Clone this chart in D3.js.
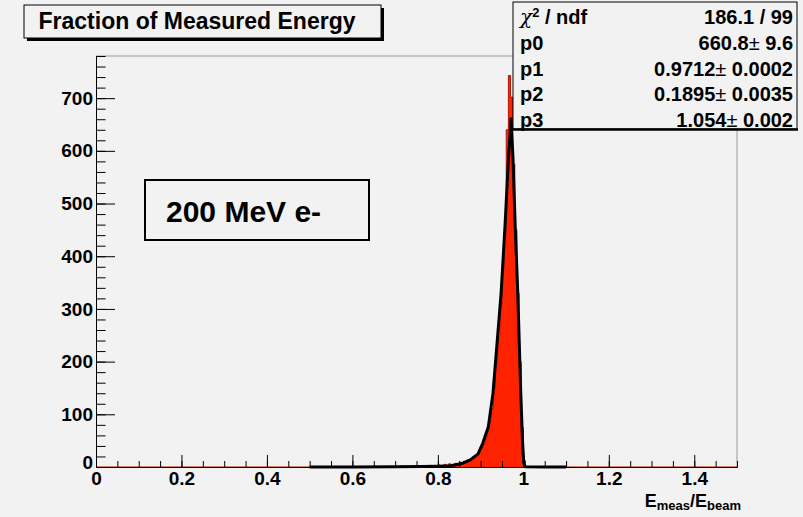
<!DOCTYPE html>
<html>
<head>
<meta charset="utf-8">
<script src="https://cdn.jsdelivr.net/npm/d3@7"></script>
<style>
  body { margin: 0; background: #f2f2f2; }
  text { font-family: "Liberation Sans", Arial, sans-serif; font-weight: bold; fill: #000; }
</style>
</head>
<body>
<script>
// histogram: first bin edge, bin width, counts
var binStart = 0.700;
var binWidth = 0.005;
var counts = [1, 0, 0, 2, 0, 1, 0, 0, 1, 0,
  0, 2, 0, 1, 0, 1, 3, 0, 2, 1,
  4, 2, 3, 5, 3, 6, 4, 5, 7, 6,
  9, 8, 11, 10, 14, 13, 17, 20, 24, 29,
  36, 44, 55, 68, 88, 112, 150, 195, 250, 310,
  375, 445, 640, 743, 702, 575, 450, 330, 200, 75,
  12, 1];

// fitted curve, points
var fitX = [0.50, 0.60, 0.70, 0.76, 0.80, 0.83, 0.854, 0.875, 0.894, 0.905, 0.918, 0.929, 0.938,
  0.948, 0.957, 0.965, 0.9712, 0.976, 0.981, 0.987, 0.994, 0.998, 1.001, 1.004, 1.05, 1.10];
var fitY = [0, 0, 0.3, 0.8, 1.5, 2.5, 6, 13, 25, 45, 76, 140, 230,
  330, 456, 582, 661, 582, 456, 330, 140, 50, 8, 0.5, 0, 0];

var xTicks = [0, 0.2, 0.4, 0.6, 0.8, 1, 1.2, 1.4];
var yTicks = [0, 100, 200, 300, 400, 500, 600, 700];

var statNames = ["χ2 / ndf", "p0", "p1", "p2", "p3"];
var statVals = [["186.1 / 99", ""], ["660.8", " 9.6"], ["0.9712", " 0.0002"], ["0.1895", " 0.0035"], ["1.054", " 0.002"]];

var svgWidth = 803, svgHeight = 517;
var margin = { top: 56, right: 66, bottom: 50, left: 96 };
var width = svgWidth - margin.left - margin.right;
var height = svgHeight - margin.top - margin.bottom;

var svg = d3.select("body").append("svg")
  .attr("width", svgWidth)
  .attr("height", svgHeight);

svg.append("rect").attr("width", svgWidth).attr("height", svgHeight).attr("fill", "#f2f2f2");

var x = d3.scaleLinear().domain([0, 1.5]).range([margin.left, margin.left + width]);
var y = d3.scaleLinear().domain([0, 780]).range([margin.top + height, margin.top]);

// frame (top / right in grey)
svg.append("path")
  .attr("d", `M${x(0)},${y(780)}H${x(1.5)}V${y(0)}`)
  .attr("fill", "none").attr("stroke", "#999").attr("stroke-width", 1);

// histogram
var pts = [[0, 0]];
counts.forEach(function (c, i) { pts.push([binStart + i * binWidth, c]); });
pts.push([binStart + counts.length * binWidth, 0]);
pts.push([1.5, 0]);

svg.append("path")
  .datum(pts)
  .attr("d", d3.area().curve(d3.curveStepAfter).x(d => x(d[0])).y0(y(0)).y1(d => y(d[1])))
  .attr("fill", "#ff2200");
svg.append("path")
  .datum(pts)
  .attr("d", d3.line().curve(d3.curveStepAfter).x(d => x(d[0])).y(d => y(d[1])))
  .attr("fill", "none").attr("stroke", "#b81400").attr("stroke-width", 1);

// fit
svg.append("path")
  .datum(fitX.map((v, i) => [v, fitY[i]]))
  .attr("d", d3.line().x(d => x(d[0])).y(d => y(d[1])))
  .attr("fill", "none").attr("stroke", "#000").attr("stroke-width", 3)
  .attr("stroke-linejoin", "round");

// axes
var xMinor = d3.range(0, 1.5001, 0.05);
svg.append("g")
  .attr("transform", `translate(0,${y(0)})`)
  .call(d3.axisBottom(x).tickValues(xMinor).tickSize(-6).tickSizeOuter(0).tickFormat(""));
var xAxis = svg.append("g")
  .attr("transform", `translate(0,${y(0)})`)
  .call(d3.axisBottom(x).tickValues(xTicks).tickSize(-12).tickSizeOuter(0).tickPadding(5)
    .tickFormat(d3.format("")));

var yMinor = d3.range(0, 781, 20);
svg.append("g")
  .attr("transform", `translate(${x(0)},0)`)
  .call(d3.axisLeft(y).tickValues(yMinor).tickSize(-9.6).tickSizeOuter(0).tickFormat(""));
var yAxis = svg.append("g")
  .attr("transform", `translate(${x(0)},0)`)
  .call(d3.axisLeft(y).tickValues(yTicks).tickSize(-19).tickSizeOuter(0).tickPadding(3));

svg.selectAll(".tick text").style("font-size", "19px").style("font-family", "Liberation Sans, Arial, sans-serif")
  .style("font-weight", "bold");
svg.selectAll(".domain, .tick line").attr("stroke", "#000");
yAxis.selectAll(".tick").filter(d => d === 0).select("text").attr("dy", "0.1em");

// x title
var xt = svg.append("text").attr("x", 741).attr("y", 507).attr("text-anchor", "end").style("font-size", "18px");
xt.append("tspan").text("E");
xt.append("tspan").attr("dy", 3).style("font-size", "13px").text("meas");
xt.append("tspan").attr("dy", -3).text("/E");
xt.append("tspan").attr("dy", 3).style("font-size", "13px").text("beam");

// title box
svg.append("rect").attr("x", 27).attr("y", 8).attr("width", 357).attr("height", 33).attr("fill", "#000");
svg.append("rect").attr("x", 24).attr("y", 5).attr("width", 357).attr("height", 33)
  .attr("fill", "#f2f2f2").attr("stroke", "#000").attr("stroke-width", 1);
svg.append("text").attr("x", 197).attr("y", 29).attr("text-anchor", "middle")
  .style("font-size", "23px").text("Fraction of Measured Energy");

// label box
svg.append("rect").attr("x", 145).attr("y", 180).attr("width", 224).attr("height", 60)
  .attr("fill", "#f2f2f2").attr("stroke", "#000").attr("stroke-width", 2);
svg.append("text").attr("x", 166).attr("y", 222).style("font-size", "30px").text("200 MeV e-");

// stats box
svg.append("rect").attr("x", 513).attr("y", 2).attr("width", 284).attr("height", 127)
  .attr("fill", "#f2f2f2").attr("stroke", "#000").attr("stroke-width", 1);
svg.append("line").attr("x1", 513).attr("x2", 798).attr("y1", 129.5).attr("y2", 129.5)
  .attr("stroke", "#000").attr("stroke-width", 2.5);

statNames.forEach(function (n, i) {
  var by = 24 + i * 25.8;
  var t = svg.append("text").attr("x", 520).attr("y", by).style("font-size", "20px");
  if (i === 0) {
    t.append("tspan").style("font-weight", "normal").style("font-family", "DejaVu Serif, serif").style("font-style", "italic").text("χ");
    t.append("tspan").attr("dy", -7).style("font-size", "13px").text("2");
    t.append("tspan").attr("dy", 7).text(" / ndf");
  } else {
    t.text(n);
  }
  var v = svg.append("text").attr("x", 793).attr("y", by).attr("text-anchor", "end").style("font-size", "20px");
  v.append("tspan").text(statVals[i][0]);
  if (statVals[i][1] !== "") {
    v.append("tspan").style("font-weight", "normal").text("±");
    v.append("tspan").text(statVals[i][1]);
  }
});
</script>
</body>
</html>
